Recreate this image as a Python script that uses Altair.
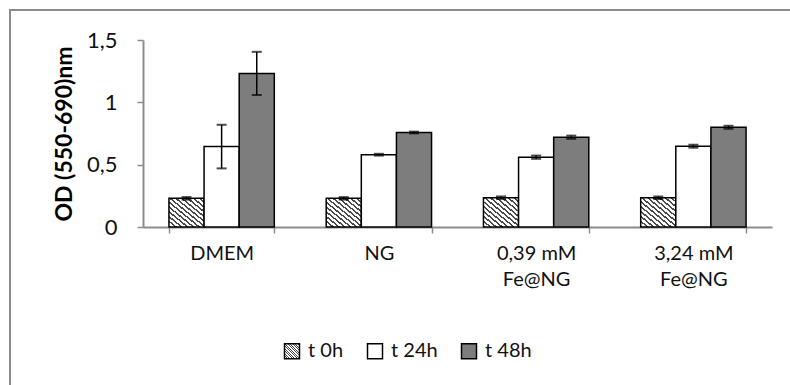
import json
import altair as alt
import pandas as pd

categories = ["DMEM", "NG", "0,39 mM Fe@NG", "3,24 mM Fe@NG"]
series = ["t 0h", "t 24h", "t 48h"]
means = {
    "t 0h": [0.23, 0.23, 0.235, 0.235],
    "t 24h": [0.645, 0.58, 0.56, 0.648],
    "t 48h": [1.232, 0.758, 0.72, 0.80],
}
errors = {
    "t 0h": [0.01, 0.01, 0.01, 0.01],
    "t 24h": [0.175, 0.007, 0.013, 0.012],
    "t 48h": [0.173, 0.007, 0.013, 0.012],
}

rows = []
for s in series:
    for i, c in enumerate(categories):
        m, e = means[s][i], errors[s][i]
        rows.append({"cat": c, "series": s, "value": m, "lo": m - e, "hi": m + e})
df = pd.DataFrame(rows)

# diagonal hatch as a hard-stop linear gradient
N = 12
dark, light = "#4a4a4a", "#ffffff"
stops = []
for k in range(N):
    o = k / N
    stops += [
        {"offset": round(o, 5), "color": dark},
        {"offset": round(o + 0.4 / N, 5), "color": dark},
        {"offset": round(o + 0.4 / N, 5), "color": light},
        {"offset": round(o + 1 / N, 5), "color": light},
    ]
hatch = {"gradient": "linear", "x1": 0, "y1": 1, "x2": 1, "y2": 0, "stops": stops}
hatch_expr = json.dumps(hatch)

FONT = "Lato"

x_enc = alt.X(
    "cat:N",
    sort=categories,
    title=None,
    scale=alt.Scale(paddingInner=0.33, paddingOuter=0.165),
    axis=alt.Axis(
        labelAngle=0,
        labelExpr="datum.value ? split(replace(datum.value, ' mM ', ' mM|'), '|') : ''",
        labelFont=FONT,
        labelFontSize=20,
        labelColor="#111111",
        labelLineHeight=26,
        labelPadding=10,
        tickBand="extent",
        tickSize=6,
        tickColor="#8c8c8c",
        domainColor="#8c8c8c",
        domainWidth=2,
        tickWidth=1.5,
    ),
)
xoff = alt.XOffset("series:N", sort=series, scale=alt.Scale(paddingInner=0, paddingOuter=0))
y_scale = alt.Scale(domain=[0, 1.5], nice=False, zero=True)

bars = alt.Chart(df).mark_bar(stroke="black").encode(
    x=x_enc,
    xOffset=xoff,
    y=alt.Y(
        "value:Q",
        scale=y_scale,
        title="OD (550-690)nm",
        axis=alt.Axis(
            values=[0, 0.5, 1, 1.5],
            labelExpr="replace(format(datum.value, '~g'), '.', ',')",
            labelFont=FONT,
            labelFontSize=22,
            labelColor="#111111",
            labelPadding=20,
            tickSize=6,
            tickColor="#8c8c8c",
            tickWidth=1.5,
            domainColor="#8c8c8c",
            domainWidth=2,
            grid=False,
            titleFont=FONT,
            titleFontSize=23,
            titleFontWeight="bold",
            titleColor="black",
            titlePadding=10,
        ),
    ),
    fill=alt.Fill(
        "series:N",
        sort=series,
        scale=alt.Scale(domain=series, range=[alt.ExprRef(hatch_expr), "#ffffff", "#7d7d7d"]),
        legend=alt.Legend(
            title=None,
            orient="none",
            direction="horizontal",
            legendX=139,
            legendY=301,
            symbolType="square",
            symbolSize=225,
            symbolStrokeColor="black",
            symbolStrokeWidth=1,
            labelFont=FONT,
            labelFontSize=20,
            labelColor="#111111",
            labelOffset=6,
            columnPadding=20,
        ),
    ),
    strokeWidth=alt.StrokeWidth(
        "series:N", scale=alt.Scale(domain=series, range=[1.5, 1.5, 2.5]), legend=None
    ),
)

rule = alt.Chart(df).mark_rule(color="black", strokeWidth=1.5).encode(
    x=alt.X("cat:N", sort=categories), xOffset=xoff,
    y=alt.Y("lo:Q", scale=y_scale), y2="hi:Q",
)
cap_lo = alt.Chart(df).mark_tick(color="black", size=10, thickness=2, orient="horizontal").encode(
    x=alt.X("cat:N", sort=categories), xOffset=xoff, y=alt.Y("lo:Q", scale=y_scale),
)
cap_hi = alt.Chart(df).mark_tick(color="black", size=10, thickness=2, orient="horizontal").encode(
    x=alt.X("cat:N", sort=categories), xOffset=xoff, y=alt.Y("hi:Q", scale=y_scale),
)

frame = alt.Chart(pd.DataFrame({"k": [0]})).mark_rect(
    fill=None, stroke="#8c8c8c", strokeWidth=2, clip=False
).encode(
    x=alt.value(-133), x2=alt.value(662), y=alt.value(-30), y2=alt.value(360)
)

chart = alt.layer(frame, bars, rule, cap_lo, cap_hi).properties(
    width=629,
    height=187,
    autosize=alt.AutoSizeParams(type="none"),
    padding={"left": 143, "top": 40, "right": 18, "bottom": 158},
    background="white",
).configure_view(stroke=None)

chart.save("out.html", embed_options={"renderer": "svg", "actions": False})
